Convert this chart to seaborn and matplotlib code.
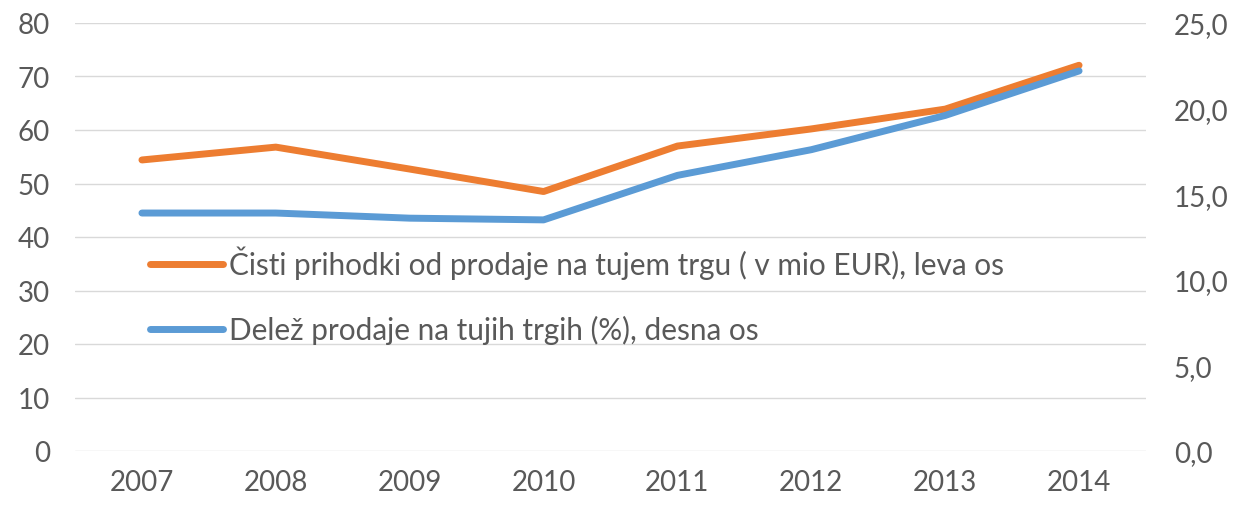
import matplotlib
matplotlib.use("Agg")
import matplotlib.pyplot as plt
import matplotlib.ticker as mticker
import seaborn as sns
import pandas as pd

# values
years = [2007, 2008, 2009, 2010, 2011, 2012, 2013, 2014]
revenue_abroad = [54.4, 56.8, 52.7, 48.5, 57.0, 60.2, 63.9, 72.1]   # left axis, mio EUR
share_abroad = [13.9, 13.9, 13.6, 13.5, 16.1, 17.6, 19.6, 22.2]     # right axis, %

left_ticks = [0, 10, 20, 30, 40, 50, 60, 70, 80]
right_ticks = [0, 5, 10, 15, 20, 25]

label_revenue = "Čisti prihodki od prodaje na tujem trgu ( v mio EUR), leva os"
label_share = "Delež prodaje na tujih trgih (%), desna os"

orange = "#ED7D31"
blue = "#5B9BD5"
grey_text = "#595959"
grid_col = "#D9D9D9"

sns.set_style("white")
plt.rcParams["font.family"] = ["Lato", "DejaVu Sans"]

df = pd.DataFrame({"year": years, "revenue": revenue_abroad, "share": share_abroad})

fig = plt.figure(figsize=(12.36, 5.06), dpi=100)
ax = fig.add_axes([75 / 1236, 1 - 452 / 506, (1146 - 75) / 1236, (452 - 24) / 506])
ax2 = ax.twinx()

sns.lineplot(data=df, x="year", y="revenue", ax=ax, color=orange, linewidth=5,
             solid_capstyle="round", label=label_revenue, legend=False)
sns.lineplot(data=df, x="year", y="share", ax=ax2, color=blue, linewidth=5,
             solid_capstyle="round", label=label_share, legend=False)

ax.set_xlim(years[0] - 0.5, years[-1] + 0.5)
ax.set_ylim(0, 80)
ax2.set_ylim(0, 25)
ax.set_xticks(years)
ax.set_xticklabels([str(y) for y in years])
ax.set_yticks(left_ticks)
ax2.set_yticks(right_ticks)
ax2.yaxis.set_major_formatter(mticker.FuncFormatter(lambda v, p: f"{v:.1f}".replace(".", ",")))

ax.set_xlabel("")
ax.set_ylabel("")
ax2.set_ylabel("")

ax.yaxis.grid(True, color=grid_col, linewidth=1)
ax.set_axisbelow(True)
ax2.grid(False)

for a in (ax, ax2):
    for s in a.spines.values():
        s.set_visible(False)
ax.tick_params(axis="y", length=0, pad=18, labelsize=20, labelcolor=grey_text)
ax.tick_params(axis="x", length=0, pad=13, labelsize=20, labelcolor=grey_text)
ax2.tick_params(axis="y", length=0, pad=20, labelsize=20, labelcolor=grey_text)

h1, l1 = ax.get_legend_handles_labels()
h2, l2 = ax2.get_legend_handles_labels()
leg = ax2.legend(h1 + h2, l1 + l2, loc="upper left", bbox_to_anchor=(0.059, 0.507),
                 frameon=False, fontsize=21.4, handlelength=2.45, handletextpad=0.2,
                 labelspacing=1.2, borderaxespad=0)
for t in leg.get_texts():
    t.set_color(grey_text)

fig.savefig("out.png", dpi=100)
